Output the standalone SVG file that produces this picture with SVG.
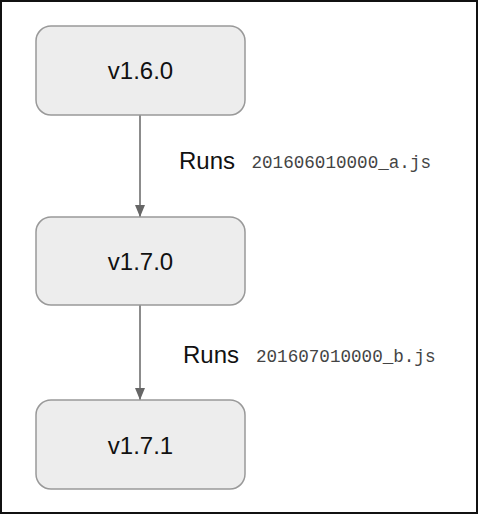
<svg xmlns="http://www.w3.org/2000/svg" width="478" height="514" viewBox="0 0 478 514">
<style>
.node rect{fill:#ededed;stroke:#999;stroke-width:1.5}
.node text{font-family:"Liberation Sans",Arial,sans-serif;font-size:24px;fill:#111;text-anchor:middle}
.edge{stroke:#666;stroke-width:1.5;fill:none}
.lbl{font-family:"Liberation Sans",Arial,sans-serif;font-size:24px;fill:#111}
.code{font-family:"Liberation Mono","Courier New",monospace;font-size:17.6px;fill:#444}
</style>
<defs>
<marker id="ah" markerWidth="12" markerHeight="10" refX="12" refY="5" orient="auto" markerUnits="userSpaceOnUse" viewBox="0 0 12 10">
<path d="M0,0 L12,5 L0,10 Z" fill="#666"/>
</marker>
</defs>
<rect x="1" y="1" width="476" height="512" fill="#fff" stroke="#111" stroke-width="2"/>
<g id="connectors">
<line class="edge" x1="140" y1="115" x2="140" y2="217" marker-end="url(#ah)"/>
<line class="edge" x1="140" y1="305" x2="140" y2="400" marker-end="url(#ah)"/>
<text class="lbl" x="179" y="169">Runs</text>
<text class="code" x="251.5" y="168">201606010000_a.js</text>
<text class="lbl" x="183" y="363">Runs</text>
<text class="code" x="256" y="362">201607010000_b.js</text>
</g>
<g id="node-v160" class="node">
<rect x="36" y="26" width="209" height="89" rx="15"/>
<text x="140.5" y="79">v1.6.0</text>
</g>
<g id="node-v170" class="node">
<rect x="36" y="217" width="209" height="88" rx="15"/>
<text x="140.5" y="270">v1.7.0</text>
</g>
<g id="node-v171" class="node">
<rect x="36" y="400" width="209" height="89" rx="15"/>
<text x="140.5" y="454">v1.7.1</text>
</g>
</svg>
